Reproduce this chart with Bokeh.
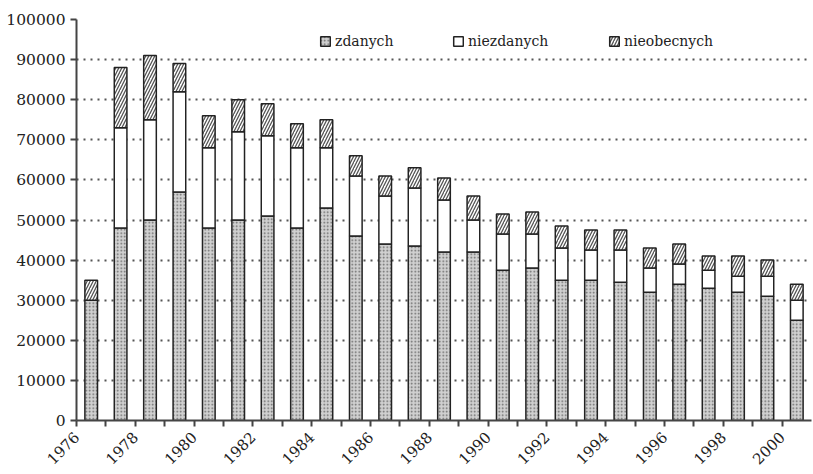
from bokeh.plotting import figure
from bokeh.models import ColumnDataSource, Range1d, FixedTicker, Legend, LegendItem, BasicTickFormatter
from bokeh.embed import file_html
from bokeh.resources import INLINE

years = ["1976", "1977", "1978", "1979", "1980", "1981", "1982", "1983", "1984",
         "1985", "1986", "1987", "1988", "1989", "1990", "1991", "1992", "1993",
         "1994", "1995", "1996", "1997", "1998", "1999", "2000"]
zdanych = [30000, 48000, 50000, 57000, 48000, 50000, 51000, 48000, 53000, 46000,
           44000, 43500, 42000, 42000, 37500, 38000, 35000, 35000, 34500, 32000,
           34000, 33000, 32000, 31000, 25000]
niezdanych = [0, 25000, 25000, 25000, 20000, 22000, 20000, 20000, 15000, 15000,
              12000, 14500, 13000, 8000, 9000, 8500, 8000, 7500, 8000, 6000,
              5000, 4500, 4000, 5000, 5000]
nieobecnych = [5000, 15000, 16000, 7000, 8000, 8000, 8000, 6000, 7000, 5000,
               5000, 5000, 5500, 6000, 5000, 5500, 5500, 5000, 5000, 5000,
               5000, 3500, 5000, 4000, 4000]
tick_labels = ["1976", "1978", "1980", "1982", "1984", "1986", "1988", "1990",
               "1992", "1994", "1996", "1998", "2000"]
series_names = ["zdanych", "niezdanych", "nieobecnych"]

FONT = "DejaVu Serif"

x = [i + 0.5 for i in range(len(years))]
src = ColumnDataSource(dict(x=x, year=years, zdanych=zdanych,
                            niezdanych=niezdanych, nieobecnych=nieobecnych))

p = figure(width=813, height=474, output_backend="svg", toolbar_location=None,
           x_range=Range1d(0, 25), y_range=Range1d(0, 100000),
           min_border_left=76, min_border_right=2, min_border_top=19,
           min_border_bottom=54)
p.outline_line_color = None
p.background_fill_color = "white"

renderers = p.vbar_stack(
    series_names, x="x", width=0.43, source=src,
    fill_color=["#d0d0d0", "white", "white"],
    line_color="#222222", line_width=1.5,
    hatch_pattern=["dot", " ", "right_diagonal_line"],
    hatch_color=["#666666", "#555555", "#555555"],
    hatch_scale=[3.5, 4, 6],
    hatch_weight=[1.0, 1.0, 1.3],
)

# axes
p.xaxis.ticker = FixedTicker(ticks=list(range(0, 25)))
overrides = {}
for i in range(0, 25):
    overrides[i] = tick_labels[i // 2] if i % 2 == 0 else ""
p.xaxis.major_label_overrides = overrides
p.xaxis.major_label_orientation = 0.785398
p.xaxis.major_label_text_font = FONT
p.xaxis.major_label_text_font_size = "15px"
p.xaxis.major_label_text_color = "#222222"
p.xaxis.major_label_standoff = 8
p.xaxis.minor_tick_line_color = None
p.xaxis.major_tick_in = 0
p.xaxis.major_tick_out = 6
p.xaxis.axis_line_width = 2
p.xaxis.axis_line_color = "#444444"
p.xaxis.major_tick_line_color = "#444444"
p.xaxis.major_tick_line_width = 2

p.yaxis.ticker = FixedTicker(ticks=list(range(0, 100001, 10000)))
p.yaxis.formatter = BasicTickFormatter(use_scientific=False)
p.yaxis.major_label_text_font = FONT
p.yaxis.major_label_text_font_size = "15.5px"
p.yaxis.major_label_text_color = "#222222"
p.yaxis.major_label_standoff = 5
p.yaxis.minor_tick_line_color = None
p.yaxis.major_tick_in = 0
p.yaxis.major_tick_out = 6
p.yaxis.axis_line_width = 2
p.yaxis.axis_line_color = "#444444"
p.yaxis.major_tick_line_color = "#444444"
p.yaxis.major_tick_line_width = 2

p.xgrid.grid_line_color = None
p.ygrid.grid_line_color = "#555555"
p.ygrid.grid_line_width = 2
p.ygrid.grid_line_dash = "2 5"

# legend: three separately placed items
for r, name, xloc in zip(renderers, series_names, [241, 374, 530]):
    lg = Legend(items=[LegendItem(label=name, renderers=[r])],
                location=(xloc, 369), orientation="horizontal",
                border_line_alpha=0, background_fill_alpha=0,
                glyph_width=12, glyph_height=12,
                label_text_font=FONT, label_text_font_size="14px",
                label_text_color="#222222",
                padding=2, margin=0, label_standoff=4)
    p.add_layout(lg)

open("out.html", "w").write(file_html(p, INLINE))
